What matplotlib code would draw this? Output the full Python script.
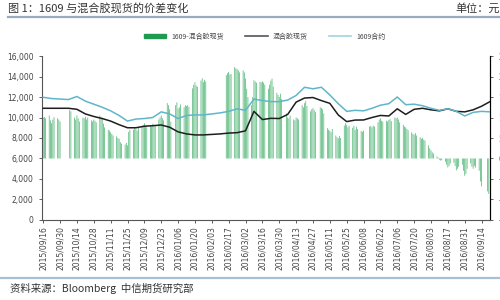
import numpy as np
import pandas as pd
import matplotlib
matplotlib.use('Agg')
import matplotlib.pyplot as plt
import matplotlib.dates as mdates
from matplotlib.ticker import FuncFormatter, MultipleLocator

plt.rcParams['font.family'] = ['Noto Sans CJK SC', 'DejaVu Sans']

# weekly samples of the two price lines (yuan), every 7 days from 2015-09-16
line_dates = pd.date_range('2015-09-16', periods=54, freq='7D')
spot = [10900, 10900, 10900, 10900, 10800, 10350, 10100, 9900, 9650, 9300,
        9000, 9000, 9150, 9200, 9270, 9050, 8600, 8400, 8300, 8300,
        8350, 8400, 8480, 8520, 8700, 10600, 9800, 9920, 9900, 10300,
        11500, 11900, 11950, 11650, 11380, 10250, 9600, 9750, 9760, 10000,
        10200, 10150, 10850, 10300, 10800, 10900, 10750, 10650, 10850, 10600,
        10550, 10750, 11100, 11550]
fut1609 = [11970, 11850, 11800, 11750, 12050, 11600, 11300, 11000, 10650, 10200,
           9650, 9850, 9900, 10000, 10550, 10350, 9900, 10200, 10250, 10250,
           10350, 10450, 10600, 10850, 10700, 11800, 11650, 11550, 11550, 11700,
           12150, 12950, 12800, 12950, 12200, 11350, 10600, 10700, 10650, 10900,
           11200, 11350, 12000, 11250, 11300, 11150, 10900, 10700, 10850, 10600,
           10150, 10500, 10600, 10550]

# daily spread 1609 - spot (right axis), one value per trading day
holidays = ['2015-10-01', '2015-10-02', '2015-10-05', '2015-10-06', '2015-10-07',
            '2016-01-01', '2016-02-08', '2016-02-09', '2016-02-10', '2016-02-11',
            '2016-02-12', '2016-04-04', '2016-05-02', '2016-06-09', '2016-06-10',
            '2016-09-15', '2016-09-16']
spread = [1000, 1010, 980,
          1050, 930, 860, 950, 1010,
          980, 950, 900,
          1180, 1150,
          1000, 950, 1050, 980, 900,
          1000, 980, 1020, 950, 1000,
          930, 900, 950, 920, 880,
          1050, 1000, 980, 850, 760,
          700, 680, 640, 600, 560,
          540, 500, 480, 400, 360,
          340, 380, 320, 650, 700,
          700, 750, 720, 680, 750,
          780, 820, 860, 800, 760,
          800, 780, 850, 820, 790,
          950, 1000, 1050, 980, 930,
          1350, 1300, 1200, 900,
          1300, 1370, 1220, 1250, 1320,
          1250, 1300, 1280, 1300, 1260,
          1710, 1800, 1860, 1780, 1750,
          1900, 1960, 1860, 1920, 1880,
          None, None, None, None, None,
          2030, 2080, 2110, 2050, 2060,
          2230, 2200, 2180, 2150, 2100,
          2150, 2100, 1950, 1700, 1500,
          1300, 1500, 1910, 1880, 1850,
          1870, 1860, 1880, 1850, 1800,
          1700, 1800, 1900, 1950, 1750,
          1600, 1550, 1500, 1580, 1450,
          1100, 1000, 980, 1050,
          950, 930, 1000, 980, 950,
          1300, 1250, 1350, 1400, 1280,
          1150, 1200, 1230, 1180, 1130,
          1250, 1230, 1200, 1100,
          740, 700, 680, 640, 720,
          560, 520, 490, 550, 500,
          800, 860, 820, 760, 800,
          750, 800, 700, 780, 720,
          670, 650, 680,
          780, 790, 760, 800, 780,
          880, 950, 980, 920, 900,
          920, 900, 940, 960, 910,
          1000, 980, 1000, 950, 880,
          820, 780, 760, 720, 690,
          640, 600, 580, 620, 560,
          515, 480, 500, 460, 440,
          320, 250, 200, 150, 120,
          50, 20, -30, -50, -40,
          -80, -150, -220, -180, -120,
          -100, -180, -290, -250, -200,
          -150, -300, -420, -380, -250,
          -120, -200, -250, -180, -220,
          -300, -560, -680,
          -800, -860]

bdays = pd.bdate_range('2015-09-16', '2016-09-20')
bdays = bdays[~bdays.isin(pd.to_datetime(holidays))]
spread = np.array([np.nan if v is None else v for v in spread], dtype=float)

fig = plt.figure(figsize=(5, 3), dpi=100)
ax = fig.add_axes([0.084, 0.2667, 0.896, 0.5466])
ax2 = ax.twinx()

bar_color = '#4db473'
ax2.bar(bdays, spread, width=0.6, color=bar_color, linewidth=0, zorder=1,
        snap=False)
ax.plot(line_dates, spot, color='#1e1e1e', lw=1.1, zorder=3)
ax.plot(line_dates, fut1609, color='#5fb6c9', lw=1.1, zorder=3)

ax.set_zorder(2)
ax.patch.set_visible(False)

ax.set_ylim(0, 16000)
ax.yaxis.set_major_locator(MultipleLocator(2000))
ax.yaxis.set_major_formatter(FuncFormatter(lambda v, p: f'{int(v):,}'))
ax2.set_ylim(-1500, 2500)
ax2.yaxis.set_major_locator(MultipleLocator(500))
ax2.yaxis.set_major_formatter(FuncFormatter(lambda v, p: f'{int(v):,}'))

ticks = pd.date_range('2015-09-16', '2016-09-14', freq='14D')
ax.set_xticks(ticks)
ax.xaxis.set_major_formatter(mdates.DateFormatter('%Y/%m/%d'))
ax.set_xlim(pd.Timestamp('2015-09-15'), pd.Timestamp('2016-09-21'))

for a in (ax, ax2):
    a.spines['top'].set_visible(False)
    a.tick_params(labelsize=5.5, colors='#444444', length=2.5, width=0.6,
                  labelfontfamily='DejaVu Sans')
ax.tick_params(axis='x', rotation=90, pad=2)
ax.spines['left'].set_color('#555555')
ax.spines['bottom'].set_color('#555555')
ax2.spines['right'].set_color('#222222')
ax2.spines['left'].set_visible(False)
ax2.spines['bottom'].set_visible(False)

# header and footer
fig.text(0.016, 0.973, '图 1：1609 与混合胶现货的价差变化', fontsize=8,
         color='#333333', va='center')
fig.text(0.91, 0.973, '单位：元', fontsize=8, color='#333333', va='center')
fig.add_artist(plt.Line2D([0.016, 1.0], [0.945, 0.945], color='#9aabbd', lw=1.6))
fig.add_artist(plt.Line2D([0.0, 1.0], [0.073, 0.073], color='#a9bfd4', lw=1.6))
fig.text(0.02, 0.037, '资料来源：Bloomberg  中信期货研究部', fontsize=7.5,
         color='#333333', va='center')

# legend
handles = [plt.Rectangle((0, 0), 1, 1, color='#1f9a50'),
           plt.Line2D([], [], color='#555555', lw=1.2),
           plt.Line2D([], [], color='#9fd6df', lw=1.2)]
fig.legend(handles, ['1609-混合胶现货', '混合胶现货', '1609合约'],
           loc='center', bbox_to_anchor=(0.53, 0.878), ncol=3, frameon=False,
           fontsize=5, handlelength=3.2, handleheight=0.5, columnspacing=3,
           labelcolor='#444444')

fig.savefig('out.png', dpi=100)
